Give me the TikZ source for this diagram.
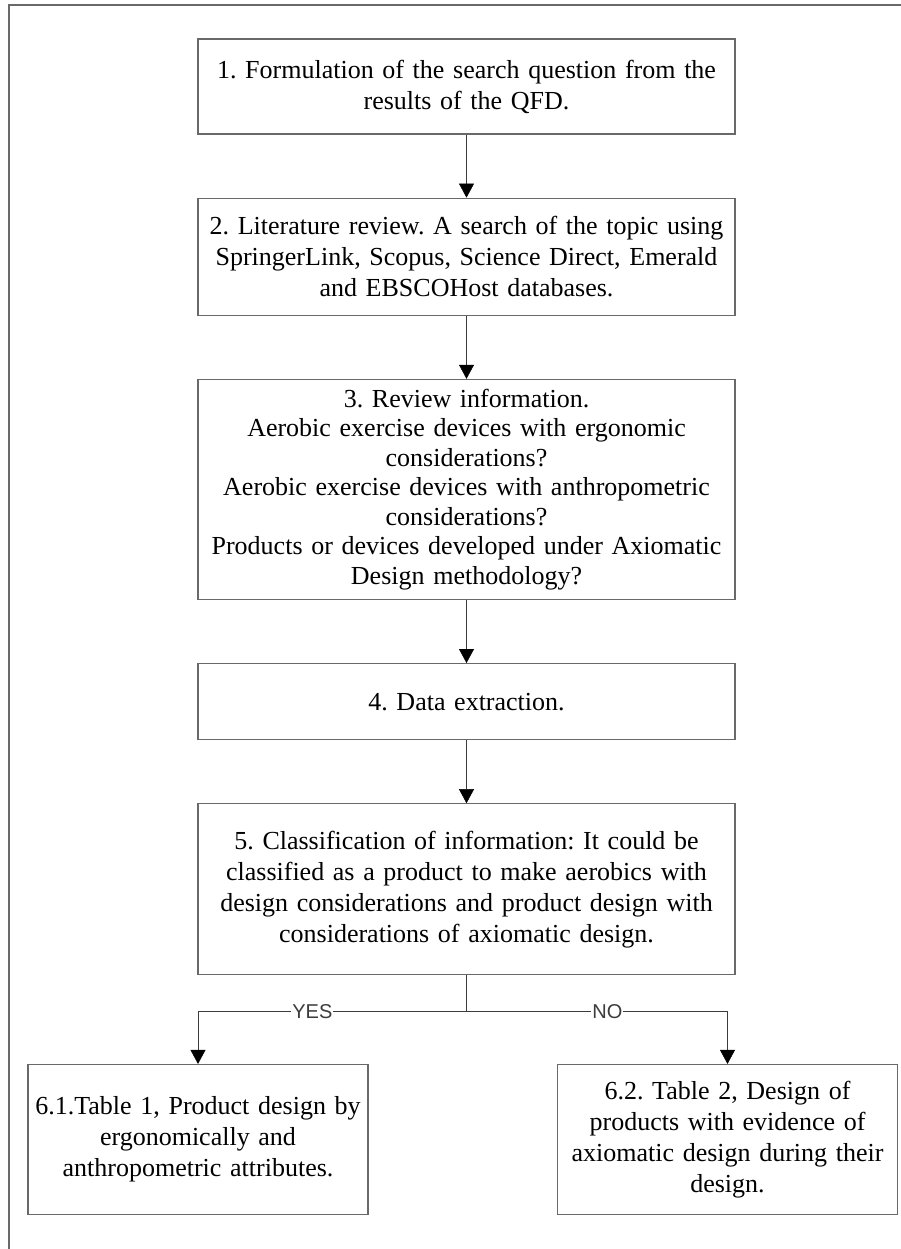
\documentclass[tikz,border=0pt]{standalone}
\usepackage{fontspec}
\setmainfont{Liberation Serif}
\setsansfont{Liberation Sans}
\usetikzlibrary{arrows.meta,positioning}
\definecolor{boxgray}{RGB}{105,105,105}
\definecolor{linegray}{RGB}{60,60,60}
\frenchspacing

\begin{document}
\begin{tikzpicture}[
    x=1pt, y=1pt,
    node distance=63pt,
    >={Triangle[width=15pt,length=14pt,color=black]}
]

\tikzset{
    b/.style={
        draw=boxgray,
        line width=1.2pt,
        minimum width=537pt,
        text width=530pt,
        align=center,
        inner sep=0pt,
        font=\fontsize{26}{31}\selectfont
    },
    sb/.style={
        b,
        minimum width=340pt,
        text width=336pt,
        minimum height=150pt
    },
    yn/.style={
        fill=white,
        inner sep=1pt,
        font=\sffamily\fontsize{20}{22}\selectfont
    }
}

\useasboundingbox (0,0) rectangle (901,-1249);
\draw[boxgray, line width=1.2pt] (9,-1249) -- (9,-5) -- (901,-5);

\node[b, minimum height=95pt] (question) at (466.5,-86.5)
{1. Formulation of the search question from the\\results of the QFD.};

\node[b, minimum height=117pt, below=of question] (review)
{2. Literature review. A search of the topic using\\SpringerLink, Scopus, Science Direct, Emerald\\and EBSCOHost databases.};

\node[b, minimum height=220pt, below=of review,
    font=\fontsize{26}{29.5}\selectfont] (info)
{3. Review information.\\Aerobic exercise devices with ergonomic\\considerations?\\Aerobic exercise devices with anthropometric\\considerations?\\Products or devices developed under Axiomatic\\Design methodology?};

\node[b, minimum height=76pt, below=of info] (extract)
{4. Data extraction.};

\node[b, minimum height=171pt, below=of extract] (classif)
{5. Classification of information: It could be\\classified as a product to make aerobics with\\design considerations and product design with\\considerations of axiomatic design.};

\node[sb] (tableone) at (198,-1139.5)
{6.1.Table 1, Product design by\\ergonomically and\\anthropometric attributes.};

\node[sb] (tabletwo) at (727.5,-1139.5)
{6.2. Table 2, Design of\\products with evidence of\\axiomatic design during their\\design.};

\draw[->,linegray] (question)--(review);
\draw[->,linegray] (review)--(info);
\draw[->,linegray] (info)--(extract);
\draw[->,linegray] (extract)--(classif);

\draw[linegray] (classif.south)--++(0,-36) coordinate (split);
\draw[->,linegray] (split) -| node[yn, pos=0.287] {YES} (tableone.north);
\draw[->,linegray] (split) -| node[yn, pos=0.27] {NO} (tabletwo.north);

\end{tikzpicture}
\end{document}
